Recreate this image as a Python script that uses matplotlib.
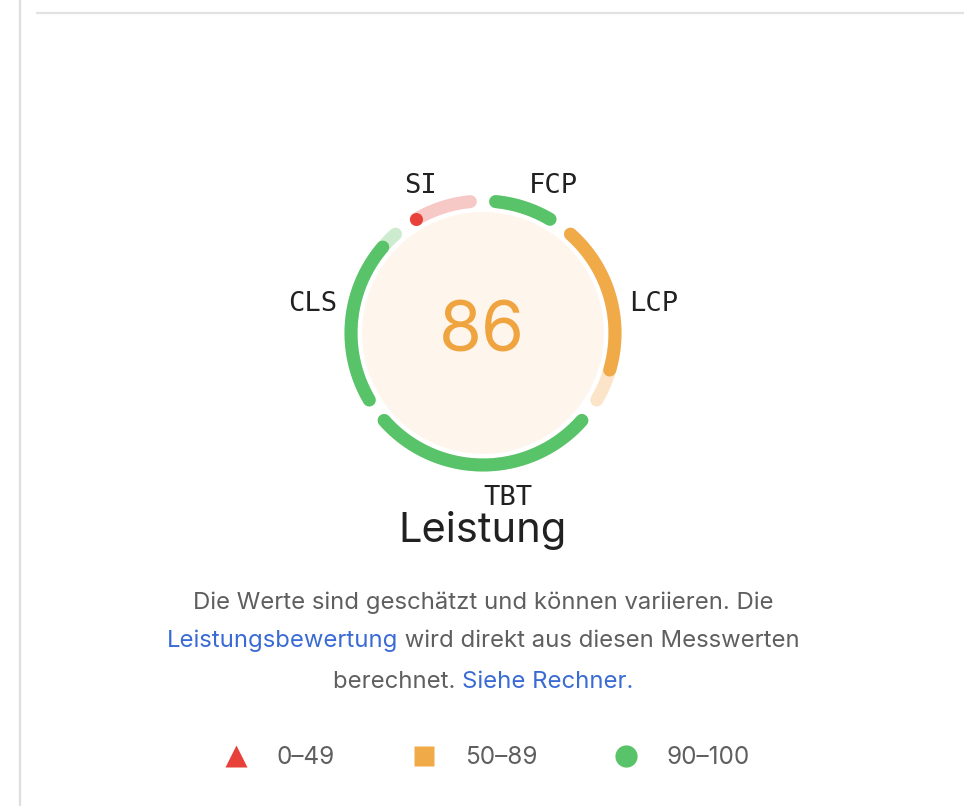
import numpy as np
import matplotlib
matplotlib.use("Agg")
import matplotlib.pyplot as plt
from matplotlib.patches import Circle

# metrics in gauge order (clockwise from top)
metrics = ["FCP", "LCP", "TBT", "CLS", "SI"]
weights = [10, 25, 30, 25, 10]
scores = [1.0, 0.82, 1.0, 0.90, 0.0]
total_score = 86

title = "Leistung"
legend_labels = ["0\u201349", "50\u201389", "90\u2013100"]

GREEN, ORANGE, RED = "#58c368", "#f0aa48", "#e8413a"
LIGHT = {GREEN: "#cdeccf", ORANGE: "#fce4c8", RED: "#f6c9c7"}
FONT = "Inter"


def rating_color(s):
    if s >= 0.9:
        return GREEN
    if s >= 0.5:
        return ORANGE
    return RED


W, H = 964, 806
fig = plt.figure(figsize=(W / 100, H / 100), dpi=100)
ax = fig.add_axes([0, 0, 1, 1])
ax.set_xlim(0, W)
ax.set_ylim(H, 0)
ax.set_aspect("equal")
ax.axis("off")

# page borders
ax.plot([19.5, 19.5], [0, H], color="#dedede", lw=1.6)
ax.plot([37, W], [13, 13], color="#e2e2e2", lw=1.6)

cx, cy, r = 483, 333, 132
ring_lw = 13 * 0.72
gap = 5.5

ax.add_patch(Circle((cx, cy), 121, facecolor="#fef6ec", edgecolor="none"))


def pt(ang, rad):
    a = np.radians(ang)
    return cx + rad * np.sin(a), cy - rad * np.cos(a)


start = 0.0
tot = sum(weights)
for name, w, s in zip(metrics, weights, scores):
    span = 360.0 * w / tot
    a0, a1 = start + gap, start + span - gap
    col = rating_color(s)
    t = np.linspace(a0, a1, 200)
    x, y = pt(t, r)
    ax.plot(x, y, color=LIGHT[col], lw=ring_lw, solid_capstyle="round", zorder=2)
    af = a0 + s * (a1 - a0)
    if af - a0 < 0.5:
        px, py = pt(a0, r)
        ax.plot([px], [py], "o", color=col, ms=13 * 0.72, mec="none", zorder=3)
    else:
        t = np.linspace(a0, af, 200)
        x, y = pt(t, r)
        ax.plot(x, y, color=col, lw=ring_lw, solid_capstyle="round", zorder=3)
    # label
    mid = start + span / 2
    lx, ly = pt(mid, 148)
    ha = "left" if lx >= cx - 1 else "right"
    if np.cos(np.radians(mid)) < -0.9:
        va = "top"
        ly += 4
    else:
        va = "center"
        ly -= 6
    ax.text(lx, ly, name, ha=ha, va=va, fontsize=19.5, family="DejaVu Sans Mono",
            color="#212121")
    start += span

ax.text(cx - 1, 333, str(total_score), ha="center", va="center", fontsize=50,
        family=FONT, color="#efa43f")

ax.text(cx, 531, title, ha="center", va="center", fontsize=30, family=FONT,
        color="#212121")

# description with links
GRAY, BLUE = "#5f5f5f", "#3a6bd4"
desc_fs = 17.2
lines = [
    [("Die Werte sind geschätzt und können variieren. Die", GRAY)],
    [("Leistungsbewertung", BLUE), (" wird direkt aus diesen Messwerten", GRAY)],
    [("berechnet. ", GRAY), ("Siehe Rechner.", BLUE)],
]
line_y = [603, 641, 682]
renderer = fig.canvas.get_renderer()
for parts, ly in zip(lines, line_y):
    texts = [ax.text(0, ly, s, ha="left", va="center", fontsize=desc_fs,
                     family=FONT, color=c) for s, c in parts]
    widths = [t.get_window_extent(renderer).width for t in texts]
    x = cx - sum(widths) / 2
    for t, wd in zip(texts, widths):
        t.set_x(x)
        x += wd

# legend
leg_y = 756
ax.plot([236], [leg_y], "^", color=RED, ms=16, mec="none")
ax.plot([424], [leg_y], "s", color=ORANGE, ms=15, mec="none")
ax.plot([626], [leg_y], "o", color=GREEN, ms=16, mec="none")
for lx, lab in zip([277, 465, 667], legend_labels):
    ax.text(lx, leg_y + 2, lab, ha="left", va="center", fontsize=17.5, family=FONT,
            color=GRAY)

fig.savefig("out.png", dpi=100, facecolor="white")
